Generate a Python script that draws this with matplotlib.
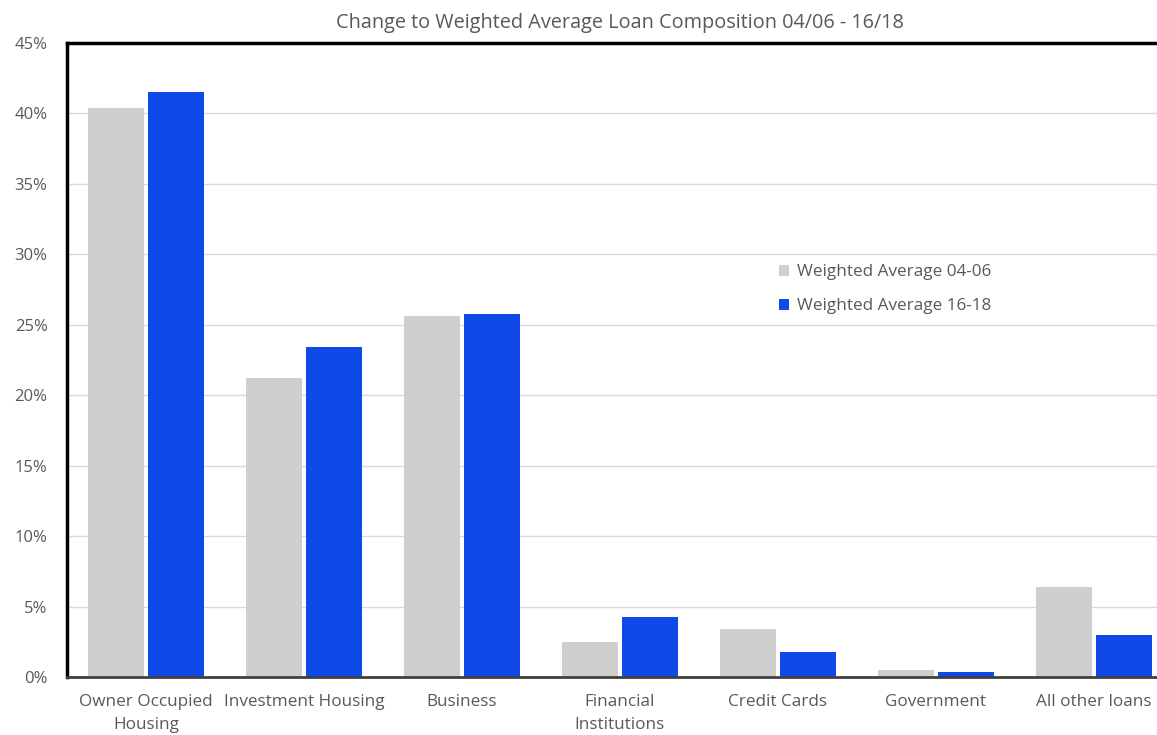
import numpy as np
import matplotlib.pyplot as plt
from matplotlib.ticker import FuncFormatter

categories = ["Owner Occupied\nHousing", "Investment Housing", "Business",
              "Financial\nInstitutions", "Credit Cards", "Government", "All other loans"]
avg_04_06 = [40.4, 21.2, 25.6, 2.5, 3.4, 0.5, 6.4]
avg_16_18 = [41.5, 23.4, 25.8, 4.25, 1.8, 0.35, 3.0]
series_names = ["Weighted Average 04-06", "Weighted Average 16-18"]

plt.rcParams['font.family'] = ['Open Sans', 'DejaVu Sans']
text_col = '#595959'

fig = plt.figure(figsize=(11.57, 7.35), dpi=100)
ax = fig.add_axes([0.0579, 0.0789, 0.9559, 0.8626])

x = np.arange(len(categories))
w = 0.355
ax.bar(x - 0.192, avg_04_06, width=w, color='#d0cece', label=series_names[0], zorder=2)
ax.bar(x + 0.192, avg_16_18, width=w, color='#0f4ae8', label=series_names[1], zorder=2)

ax.set_xlim(-0.5, len(categories) - 0.5)
ax.set_ylim(0, 45)
ax.set_yticks(np.arange(0, 46, 5))
ax.yaxis.set_major_formatter(FuncFormatter(lambda v, p: f"{v:.0f}%"))
ax.set_xticks(x)
ax.set_xticklabels(categories, fontsize=12.3, color=text_col, linespacing=1.6)
ax.tick_params(axis='y', labelsize=12, labelcolor=text_col, length=0, pad=14)
ax.tick_params(axis='x', length=0, pad=12)
ax.grid(axis='y', color='#d9d9d9', linewidth=1, zorder=0)

for s in ['left', 'top']:
    ax.spines[s].set_linewidth(2.5)
    ax.spines[s].set_color('black')
ax.spines['bottom'].set_linewidth(2)
ax.spines['bottom'].set_color('#404040')
ax.spines['right'].set_visible(False)
ax.spines['top'].set_zorder(5)

ax.set_title("Change to Weighted Average Loan Composition 04/06 - 16/18",
             fontsize=14.3, color=text_col, pad=11)

ax.legend(loc='upper left', bbox_to_anchor=(0.63, 0.675), frameon=False,
          fontsize=12.3, labelcolor=text_col, handlelength=0.6, handleheight=0.6,
          handletextpad=0.45, labelspacing=1.05)

fig.savefig("out.png", dpi=100)
